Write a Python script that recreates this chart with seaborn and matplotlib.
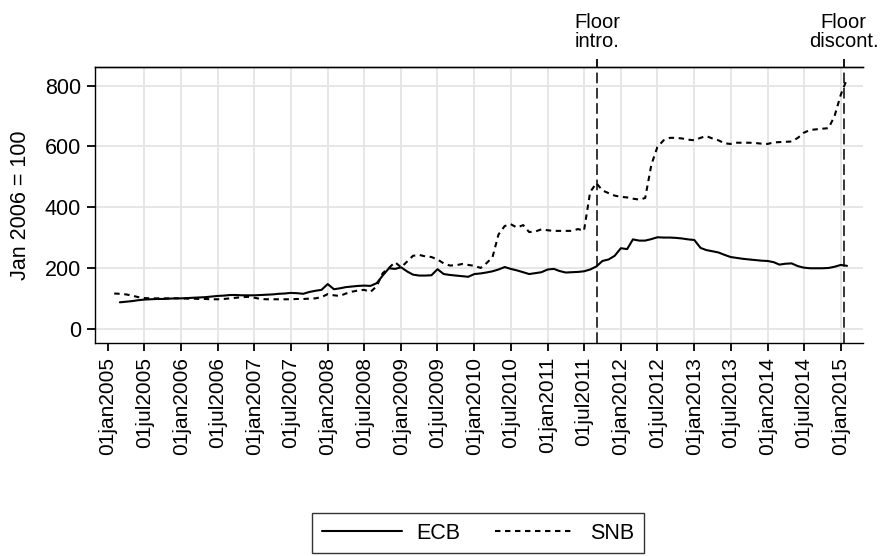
import pandas as pd
import matplotlib
matplotlib.use('Agg')
import matplotlib.pyplot as plt
import seaborn as sns

# monthly index levels, Jan 2006 = 100
snb_start = '2005-02-01'
snb = [116, 115, 113, 109, 104, 101, 100, 100, 100, 100, 100,
       100, 99, 99, 98, 98, 97, 97, 98, 100, 102, 104, 105,
       102, 98, 97, 97, 97, 97, 97, 98, 98, 99, 100, 104,
       114, 110, 108, 116, 122, 126, 128, 121, 140, 183, 200, 219,
       202, 222, 240, 243, 238, 236, 228, 215, 208, 209, 213, 210,
       207, 200, 215, 235, 310, 338, 344, 333, 341, 318, 320, 327,
       324, 322, 322, 322, 322, 328, 322, 450, 479, 455, 446, 438,
       434, 432, 428, 425, 430, 540, 598, 620, 628, 628, 626, 622,
       620, 628, 634, 626, 620, 610, 608, 612, 612, 612, 611, 609,
       608, 613, 614, 615, 616, 628, 645, 654, 656, 658, 660, 700,
       770, 822]

ecb_start = '2005-03-01'
ecb = [87, 89, 91, 94, 96, 97, 98, 98, 99, 100,
       100, 101, 102, 103, 104, 106, 108, 109, 111, 111, 110, 110,
       110, 111, 112, 113, 115, 116, 118, 117, 115, 121, 125, 128,
       147, 130, 133, 137, 139, 141, 142, 141, 150, 175, 199, 197,
       202, 188, 178, 175, 175, 176, 196, 180, 177, 175, 173, 171,
       180, 182, 185, 189, 195, 203, 197, 192, 186, 180, 183, 186,
       195, 197, 190, 185, 186, 187, 189, 195, 205, 223, 228, 240,
       265, 262, 294, 290, 290, 295, 301, 300, 300, 299, 297, 294,
       292, 266, 259, 255, 251, 243, 236, 233, 230, 228, 226, 224,
       223, 219, 211, 214, 215, 206, 201, 199, 199, 199, 200, 204,
       210, 207]

tick_dates = pd.date_range('2005-01-01', '2015-01-01', freq='6MS')
tick_labels = [d.strftime('%d%b%Y').lower() for d in tick_dates]
y_ticks = [0, 200, 400, 600, 800]

floor_dates = pd.to_datetime(['2011-09-06', '2015-01-15'])
floor_labels = ['Floor\nintro.', 'Floor\ndiscont.']

snb_dates = pd.date_range(snb_start, periods=len(snb), freq='MS')
ecb_dates = pd.date_range(ecb_start, periods=len(ecb), freq='MS')

sns.set_style('white')
plt.rcParams['font.family'] = ['Liberation Sans', 'DejaVu Sans']
plt.rcParams['text.color'] = 'black'
plt.rcParams['axes.labelcolor'] = 'black'
plt.rcParams['xtick.color'] = 'black'
plt.rcParams['ytick.color'] = 'black'

fig = plt.figure(figsize=(8.85, 5.56), dpi=100)
ax = fig.add_axes([0.1073, 0.383, 0.8677, 0.497])

sns.lineplot(x=ecb_dates, y=ecb, color='black', linewidth=1.5, label='ECB', ax=ax)
sns.lineplot(x=snb_dates, y=snb, color='black', linewidth=1.5,
             linestyle=(0, (2.6, 2.2)), label='SNB', ax=ax)

for d in floor_dates:
    ax.axvline(d, color='black', linewidth=1.1, linestyle=(0, (7, 3)), zorder=3)

# light grid, no line at the first x tick (next to the axis)
for d in tick_dates[1:]:
    ax.axvline(d, color='#e4e4e4', linewidth=1.3, zorder=0)
for v in y_ticks:
    ax.axhline(v, color='#e4e4e4', linewidth=1.3, zorder=0)

ax.set_xlim(pd.Timestamp('2004-10-28'), pd.Timestamp('2015-04-21'))
ax.set_ylim(-47, 862)
ax.set_xticks(tick_dates)
ax.set_xticklabels(tick_labels, rotation=90, fontsize=15)
ax.set_yticks(y_ticks)
ax.set_yticklabels([str(v) for v in y_ticks], fontsize=15.5)
ax.set_xlabel('')
ax.set_ylabel('Jan 2006 = 100', fontsize=15.5, labelpad=10)

ax.grid(False)
ax.tick_params(axis='both', direction='out', length=6, width=1.3, color='black',
               bottom=True, left=True, pad=4)

for side in ['left', 'bottom', 'top']:
    ax.spines[side].set_visible(True)
    ax.spines[side].set_color('black')
    ax.spines[side].set_linewidth(1.0)
ax.spines['right'].set_visible(False)

secax = ax.secondary_xaxis('top')
secax.set_xticks(floor_dates)
secax.set_xticklabels(floor_labels, fontsize=14.5, linespacing=1.0)
secax.tick_params(direction='out', length=6, width=1.3, color='black', pad=5)
secax.spines['top'].set_linewidth(1.0)

handles, labels = ax.get_legend_handles_labels()
ax.get_legend().remove()
leg = fig.legend(handles, labels, loc='center', bbox_to_anchor=(0.54, 0.041),
                 ncol=2, frameon=True, fancybox=False, edgecolor='black',
                 fontsize=15.5, handlelength=3.7, columnspacing=1.6,
                 handletextpad=0.7, borderpad=0.45)
leg.get_frame().set_linewidth(1.0)

fig.savefig('out.png', dpi=100)
